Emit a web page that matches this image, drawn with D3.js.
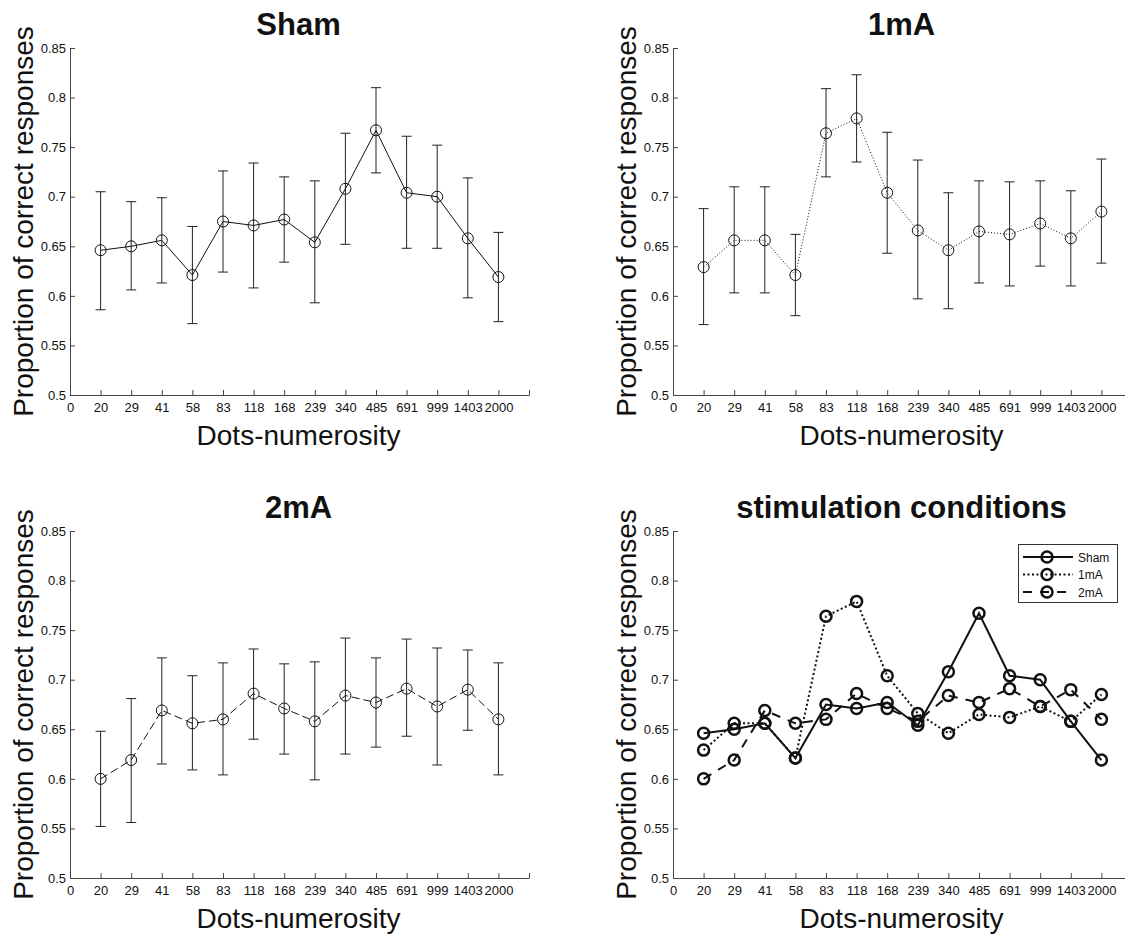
<!DOCTYPE html>
<html>
<head>
<meta charset="utf-8">
<script src="https://cdn.jsdelivr.net/npm/d3@7"></script>
<style>
  body { margin: 0; background: #fff; }
  text { font-family: "Liberation Sans", Arial, sans-serif; fill: #111; }
</style>
</head>
<body>
<div id="fig"></div>
<script type="text/javascript">
// dot numerosities (x categories)
var numerosity = [20, 29, 41, 58, 83, 118, 168, 239, 340, 485, 691, 999, 1403, 2000];
var yTicks = [0.5, 0.55, 0.6, 0.65, 0.7, 0.75, 0.8, 0.85];

// Sham
var shamMean = [0.646, 0.650, 0.656, 0.621, 0.675, 0.671, 0.677, 0.654, 0.708, 0.767, 0.704, 0.700, 0.658, 0.619];
var shamHi   = [0.705, 0.695, 0.699, 0.670, 0.726, 0.734, 0.720, 0.716, 0.764, 0.810, 0.761, 0.752, 0.719, 0.664];
var shamLo   = [0.586, 0.606, 0.613, 0.572, 0.624, 0.608, 0.634, 0.593, 0.652, 0.724, 0.648, 0.648, 0.598, 0.574];

// 1mA
var ma1Mean = [0.629, 0.656, 0.656, 0.621, 0.764, 0.779, 0.704, 0.666, 0.646, 0.665, 0.662, 0.673, 0.658, 0.685];
var ma1Hi   = [0.688, 0.710, 0.710, 0.662, 0.809, 0.823, 0.765, 0.737, 0.704, 0.716, 0.715, 0.716, 0.706, 0.738];
var ma1Lo   = [0.571, 0.603, 0.603, 0.580, 0.720, 0.735, 0.643, 0.597, 0.587, 0.613, 0.610, 0.630, 0.610, 0.633];

// 2mA
var ma2Mean = [0.600, 0.619, 0.669, 0.656, 0.660, 0.686, 0.671, 0.658, 0.684, 0.677, 0.691, 0.673, 0.690, 0.660];
var ma2Hi   = [0.648, 0.681, 0.722, 0.704, 0.717, 0.731, 0.716, 0.718, 0.742, 0.722, 0.741, 0.732, 0.730, 0.717];
var ma2Lo   = [0.552, 0.556, 0.615, 0.609, 0.604, 0.640, 0.625, 0.599, 0.625, 0.632, 0.643, 0.614, 0.649, 0.604];

var width = 1125, height = 934;

var svg = d3.select("#fig").append("svg")
    .attr("width", width)
    .attr("height", height);

function drawPanel(p) {
  var x = d3.scaleLinear().domain([0, 15]).range([p.x0, p.x1]);
  var y = d3.scaleLinear().domain([0.5, 0.85]).range([p.yBot, p.yTop]);
  var g = svg.append("g");

  //x axis
  var xa = g.append("g")
      .attr("transform", "translate(0," + p.yBot + ")")
      .call(d3.axisBottom(x)
        .tickValues(d3.range(0, 16))
        .tickFormat(function (i) { return i == 0 ? "0" : (numerosity[i - 1] || ""); })
        .tickSizeInner(-5).tickSizeOuter(0).tickPadding(8));
  //y axis
  var ya = g.append("g")
      .attr("transform", "translate(" + p.x0 + ",0)")
      .call(d3.axisLeft(y)
        .tickValues(yTicks)
        .tickFormat(function (d) { return String(d); })
        .tickSizeInner(-5).tickSizeOuter(0).tickPadding(4));
  [xa, ya].forEach(function (a) {
    a.attr("font-family", null).attr("font-size", 13);
    a.selectAll("path, line").attr("stroke", "#444");
    a.selectAll("text").attr("fill", "#111");
  });

  // labels
  g.append("text")
      .attr("x", (p.x0 + p.x1 - 2) / 2)
      .attr("y", p.yTop - 13)
      .attr("text-anchor", "middle")
      .attr("font-size", 31)
      .attr("font-weight", "bold")
      .text(p.title);
  g.append("text")
      .attr("x", (p.x0 + x(15)) / 2 - 1)
      .attr("y", p.yBot + 50)
      .attr("text-anchor", "middle")
      .attr("font-size", 28)
      .text("Dots-numerosity");
  g.append("text")
      .attr("transform", "translate(" + (p.x0 - 37) + "," + ((p.yTop + p.yBot) / 2) + ") rotate(-90)")
      .attr("text-anchor", "middle")
      .attr("font-size", 28)
      .text("Proportion of correct responses");

  var line = d3.line()
      .x(function (d, i) { return x(i + 1); })
      .y(function (d) { return y(d); });

  p.series.forEach(function (s) {
    if (s.hi) {
      var eb = g.append("g").attr("stroke", "#222").attr("stroke-width", 1);
      s.mean.forEach(function (m, i) {
        var cx = x(i + 1);
        eb.append("line").attr("x1", cx).attr("x2", cx).attr("y1", y(s.hi[i])).attr("y2", y(s.lo[i]));
        eb.append("line").attr("x1", cx - 5).attr("x2", cx + 5).attr("y1", y(s.hi[i])).attr("y2", y(s.hi[i]));
        eb.append("line").attr("x1", cx - 5).attr("x2", cx + 5).attr("y1", y(s.lo[i])).attr("y2", y(s.lo[i]));
      });
    }
    g.append("path")
        .datum(s.mean)
        .attr("d", line)
        .attr("fill", "none")
        .attr("stroke", "#111")
        .attr("stroke-width", s.lw)
        .attr("stroke-dasharray", s.dash);
    g.append("g").selectAll("circle")
        .data(s.mean)
        .enter().append("circle")
        .attr("cx", function (d, i) { return x(i + 1); })
        .attr("cy", function (d) { return y(d); })
        .attr("r", s.r)
        .attr("fill", "none")
        .attr("stroke", "#111")
        .attr("stroke-width", s.mw);
  });

  if (p.legend) {
    var lg = g.append("g");
    lg.append("rect")
        .attr("x", 1018.5).attr("y", 544.5)
        .attr("width", 99).attr("height", 58)
        .attr("fill", "#fff").attr("stroke", "#333").attr("stroke-width", 1);
    p.series.forEach(function (s, k) {
      var ly = 557 + k * 17.5;
      lg.append("line")
          .attr("x1", 1023).attr("x2", 1073).attr("y1", ly).attr("y2", ly)
          .attr("stroke", "#111").attr("stroke-width", s.lw)
          .attr("stroke-dasharray", s.dash);
      lg.append("circle")
          .attr("cx", 1047).attr("cy", ly).attr("r", s.r)
          .attr("fill", "none").attr("stroke", "#111").attr("stroke-width", s.mw);
      lg.append("text")
          .attr("x", 1078).attr("y", ly + 4.5)
          .attr("font-size", 12)
          .text(s.name);
    });
  }
}

drawPanel({ title: "Sham", x0: 70, x1: 529, yTop: 48, yBot: 395,
  series: [{ mean: shamMean, hi: shamHi, lo: shamLo, lw: 1, dash: null, r: 5.5, mw: 1 }] });
drawPanel({ title: "1mA", x0: 673, x1: 1132, yTop: 48, yBot: 395,
  series: [{ mean: ma1Mean, hi: ma1Hi, lo: ma1Lo, lw: 1, dash: "1,2", r: 5.5, mw: 1 }] });
drawPanel({ title: "2mA", x0: 70, x1: 529, yTop: 531, yBot: 878,
  series: [{ mean: ma2Mean, hi: ma2Hi, lo: ma2Lo, lw: 1, dash: "8,4", r: 5.5, mw: 1 }] });
drawPanel({ title: "stimulation conditions", x0: 673, x1: 1132, yTop: 531, yBot: 878, legend: true,
  series: [
    { name: "Sham", mean: shamMean, lw: 2, dash: null, r: 5.5, mw: 2.5 },
    { name: "1mA", mean: ma1Mean, lw: 2, dash: "2,2.5", r: 5.5, mw: 2.5 },
    { name: "2mA", mean: ma2Mean, lw: 2, dash: "9,8", r: 5.5, mw: 2.5 }
  ] });
</script>
</body>
</html>
